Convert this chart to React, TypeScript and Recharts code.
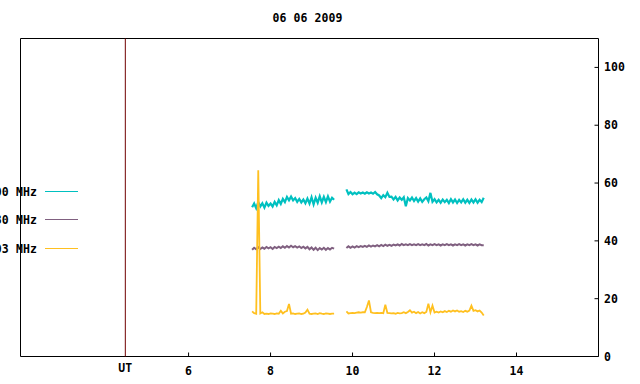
import React from "react";
import { LineChart, Line, XAxis, YAxis, ReferenceLine, ReferenceArea } from "recharts";

const title = "06 06 2009";
const seriesNames = ["00 MHz", "30 MHz", "03 MHz"];
const seriesColors = ["#00c0c0", "#806080", "#ffc020"];

const xTicks = [4.457, 6, 8, 10, 12, 14];
const xTickLabels = ["UT", "6", "8", "10", "12", "14"];
const yTicks = [0, 20, 40, 60, 80, 100];
const utMark = 4.457;
const gapTime = 9.7;

const times1 = [
  7.55, 7.6, 7.65, 7.7, 7.75, 7.8, 7.85, 7.9, 7.95, 8.0,
  8.05, 8.1, 8.15, 8.2, 8.25, 8.3, 8.35, 8.4, 8.45, 8.5,
  8.55, 8.6, 8.65, 8.7, 8.75, 8.8, 8.85, 8.9, 8.95, 9.0,
  9.05, 9.1, 9.15, 9.2, 9.25, 9.3, 9.35, 9.4, 9.45, 9.5,
  9.55,
];
const times2 = [
  9.85, 9.9, 9.95, 10.0, 10.05, 10.1, 10.15, 10.2, 10.25, 10.3,
  10.35, 10.4, 10.45, 10.5, 10.55, 10.6, 10.65, 10.7, 10.75, 10.8,
  10.85, 10.9, 10.95, 11.0, 11.05, 11.1, 11.15, 11.2, 11.25, 11.3,
  11.35, 11.4, 11.45, 11.5, 11.55, 11.6, 11.65, 11.7, 11.75, 11.8,
  11.85, 11.9, 11.95, 12.0, 12.05, 12.1, 12.15, 12.2, 12.25, 12.3,
  12.35, 12.4, 12.45, 12.5, 12.55, 12.6, 12.65, 12.7, 12.75, 12.8,
  12.85, 12.9, 12.95, 13.0, 13.05, 13.1, 13.15, 13.2,
];

const cyan1 = [
  51.6, 52.9, 51.3, 53.4, 51.9, 53.0, 51.5, 53.2, 52.1, 52.9,
  51.9, 53.5, 52.3, 54.1, 52.8, 54.5, 53.4, 55.2, 54.0, 55.3,
  54.0, 54.8, 53.5, 54.5, 53.3, 54.3, 53.0, 54.6, 52.9, 55.1,
  52.6, 54.9, 53.2, 55.4, 53.3, 55.2, 53.4, 55.4, 53.6, 54.9,
  54.2,
];
const cyan2 = [
  57.8, 56.2, 56.9, 56.1, 56.7, 56.2, 56.8, 56.4, 56.7, 56.3,
  56.8, 56.4, 56.7, 56.3, 56.9, 56.1, 55.7, 54.8, 55.8, 55.1,
  56.6, 55.2, 55.3, 54.3, 55.2, 54.0, 55.0, 54.2, 55.1, 52.0,
  54.8, 54.0, 55.0, 53.8, 54.8, 53.6, 54.7, 53.5, 54.4, 55.0,
  53.7, 56.6, 53.5, 54.4, 53.3, 54.2, 53.2, 54.3, 53.4, 54.2,
  53.1, 54.4, 53.3, 54.3, 53.1, 54.2, 53.3, 54.4, 53.2, 54.2,
  53.1, 54.3, 53.3, 54.4, 53.2, 54.2, 53.4, 54.9,
];

const purple1 = [
  36.9, 37.6, 37.1, 37.8, 37.2, 37.7, 37.3, 37.9, 37.4, 37.8,
  37.2, 37.9, 37.5, 38.0, 37.5, 38.1, 37.6, 38.2, 37.7, 38.3,
  37.8, 38.2, 37.7, 38.1, 37.5, 38.0, 37.4, 37.9, 37.1, 37.7,
  36.9, 37.6, 36.8, 37.5, 37.0, 37.6, 36.9, 37.5, 37.0, 37.6,
  37.3,
];
const purple2 = [
  37.5, 38.1, 37.6, 38.1, 37.7, 38.2, 37.8, 38.2, 37.9, 38.3,
  37.9, 38.4, 38.0, 38.4, 38.1, 38.5, 38.1, 38.6, 38.2, 38.7,
  38.3, 38.6, 38.3, 38.7, 38.4, 38.8, 38.4, 38.9, 38.5, 38.8,
  38.5, 38.9, 38.5, 38.8, 38.5, 38.9, 38.5, 38.8, 38.5, 38.9,
  38.4, 38.8, 38.5, 38.9, 38.5, 38.8, 38.4, 38.8, 38.5, 38.9,
  38.5, 38.8, 38.4, 38.8, 38.5, 38.9, 38.5, 38.8, 38.4, 38.8,
  38.5, 38.9, 38.5, 38.8, 38.4, 38.8, 38.5, 38.5,
];

const yellow1 = [
  15.6, 15.0, 14.8, 64.4, 14.9, 15.3, 14.7, 14.8, 14.7, 14.9,
  14.8, 14.7, 14.9, 14.8, 15.8, 14.9, 15.5, 15.7, 18.2, 14.8,
  14.9, 14.7, 14.8, 14.9, 14.7, 14.8, 15.2, 16.2, 14.8, 14.7,
  14.8, 14.9, 14.7, 15.0, 14.8, 14.7, 14.9, 14.8, 14.7, 14.8,
  14.8,
];
const yellow2 = [
  15.6, 14.9, 15.0, 15.1, 15.0, 15.2, 15.3, 15.2, 15.3, 15.3,
  17.1, 19.4, 15.3, 15.1, 15.0, 15.1, 15.0, 15.1, 15.0, 17.9,
  15.1, 15.0, 14.9, 15.0, 14.8, 15.1, 14.9, 15.0, 15.3, 15.0,
  15.4, 16.0, 15.2, 15.5, 15.0, 15.4, 14.9, 15.3, 15.0, 15.4,
  18.3, 15.3, 17.6, 15.2, 15.5, 15.2, 15.6, 15.3, 15.7, 15.4,
  15.8, 15.5, 15.9, 15.6, 15.9, 15.5, 15.7, 15.4, 15.8, 15.5,
  15.9, 17.6, 15.8, 16.0, 15.6, 15.9, 15.2, 14.2,
];

type Row = { t: number; a: number | null; b: number | null; c: number | null };
const data: Row[] = [
  ...times1.map((t, i) => ({ t, a: cyan1[i], b: purple1[i], c: yellow1[i] })),
  { t: gapTime, a: null, b: null, c: null },
  ...times2.map((t, i) => ({ t, a: cyan2[i], b: purple2[i], c: yellow2[i] })),
];

const FONT = "'DejaVu Sans Mono', 'Liberation Mono', monospace";
const textStyle = { fontFamily: FONT, fontSize: 11.5, fontWeight: 700, letterSpacing: 0.1 } as const;

const XTick = (props: any) => {
  const { x, y, payload } = props;
  const idx = xTicks.indexOf(payload.value);
  const label = idx >= 0 ? xTickLabels[idx] : String(payload.value);
  const isUT = label === "UT";
  return (
    <g>
      {!isUT && <line x1={x} x2={x} y1={y} y2={y - 4} stroke="#000" />}
      <text x={x} y={y + (isUT ? 15.5 : 18.5)} textAnchor="middle" fill="#000" style={textStyle}>
        {label}
      </text>
    </g>
  );
};

const TopTick = (props: any) => {
  const { x, y, payload } = props;
  if (payload.value === utMark) return <g />;
  return <line x1={x} x2={x} y1={y} y2={y + 4} stroke="#000" />;
};

const YTick = (props: any) => {
  const { x, y, payload } = props;
  return (
    <g>
      <line x1={x - 4} x2={x} y1={y} y2={y} stroke="#000" />
      <text x={x + 5.5} y={y + 4} textAnchor="start" fill="#000" style={textStyle}>
        {payload.value}
      </text>
    </g>
  );
};

const legendRows = [191.5, 219.5, 248.5];

export default function App() {
  return (
    <div style={{ position: "absolute", left: 0, top: 0, width: 640, height: 384, background: "#fff" }}>
      <LineChart
        width={640}
        height={384}
        data={data}
        margin={{ top: 38.5, left: 20.5, right: 0, bottom: 0 }}
      >
        <XAxis
          xAxisId="bottom"
          type="number"
          dataKey="t"
          domain={[1.9, 16]}
          allowDataOverflow
          ticks={xTicks}
          interval={0}
          height={27.5}
          axisLine={false}
          tickLine={false}
          tickSize={0}
          tickMargin={0}
          tick={<XTick />}
        />
        <XAxis
          xAxisId="top"
          orientation="top"
          type="number"
          dataKey="t"
          domain={[1.9, 16]}
          allowDataOverflow
          ticks={xTicks}
          interval={0}
          height={0}
          axisLine={false}
          tickLine={false}
          tickSize={0}
          tickMargin={0}
          tick={<TopTick />}
        />
        <YAxis
          orientation="right"
          width={41.5}
          domain={[0, 110]}
          allowDataOverflow
          ticks={yTicks}
          interval={0}
          axisLine={false}
          tickLine={false}
          tickSize={0}
          tickMargin={0}
          tick={<YTick />}
        />
        <ReferenceLine xAxisId="bottom" x={utMark} stroke="#700000" strokeWidth={1} />
        <Line
          xAxisId="bottom"
          dataKey="a"
          stroke={seriesColors[0]}
          strokeWidth={2.2}
          dot={false}
          isAnimationActive={false}
          connectNulls={false}
          type="linear"
        />
        <Line
          xAxisId="bottom"
          dataKey="b"
          stroke={seriesColors[1]}
          strokeWidth={2}
          dot={false}
          isAnimationActive={false}
          connectNulls={false}
          type="linear"
        />
        <Line
          xAxisId="bottom"
          dataKey="c"
          stroke={seriesColors[2]}
          strokeWidth={1.8}
          dot={false}
          isAnimationActive={false}
          connectNulls={false}
          type="linear"
        />
        <ReferenceArea
          xAxisId="bottom"
          x1={1.9}
          x2={16}
          y1={0}
          y2={110}
          fill="none"
          fillOpacity={0}
          stroke="#000"
          strokeWidth={1}
          ifOverflow="visible"
        />
      </LineChart>
      <svg
        width={640}
        height={384}
        style={{ position: "absolute", left: 0, top: 0, pointerEvents: "none" }}
      >
        <text x={307.5} y={22} textAnchor="middle" fill="#000" style={textStyle}>
          {title}
        </text>
        {seriesNames.map((name, i) => (
          <g key={name}>
            <text x={37} y={legendRows[i] + 4.5} textAnchor="end" fill="#000" style={textStyle}>
              {name}
            </text>
            <line x1={45} x2={78} y1={legendRows[i]} y2={legendRows[i]} stroke={seriesColors[i]} strokeWidth={1} />
          </g>
        ))}
      </svg>
    </div>
  );
}
